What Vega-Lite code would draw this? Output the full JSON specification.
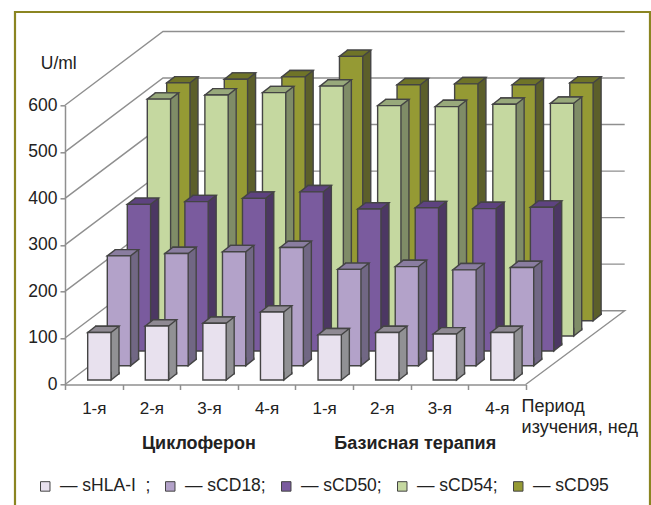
{"$schema":"https://vega.github.io/schema/vega-lite/v6.json","width":460.7,"height":279.2,"autosize":"none","padding":{"left":65,"top":105.3,"right":125.3,"bottom":120.5},"background":"white","config":{"view":{"stroke":null},"font":"Liberation Sans"},
"datasets":{"bars":[
{"period":"Ц|1-я","series":"sHLA-I","value":102},{"period":"Ц|2-я","series":"sHLA-I","value":116},{"period":"Ц|3-я","series":"sHLA-I","value":122},{"period":"Ц|4-я","series":"sHLA-I","value":146},{"period":"Б|1-я","series":"sHLA-I","value":97},{"period":"Б|2-я","series":"sHLA-I","value":102},{"period":"Б|3-я","series":"sHLA-I","value":99},{"period":"Б|4-я","series":"sHLA-I","value":102},
{"period":"Ц|1-я","series":"sCD18","value":236},{"period":"Ц|2-я","series":"sCD18","value":241},{"period":"Ц|3-я","series":"sCD18","value":245},{"period":"Ц|4-я","series":"sCD18","value":254},{"period":"Б|1-я","series":"sCD18","value":207},{"period":"Б|2-я","series":"sCD18","value":213},{"period":"Б|3-я","series":"sCD18","value":206},{"period":"Б|4-я","series":"sCD18","value":211},
{"period":"Ц|1-я","series":"sCD50","value":315},{"period":"Ц|2-я","series":"sCD50","value":321},{"period":"Ц|3-я","series":"sCD50","value":328},{"period":"Ц|4-я","series":"sCD50","value":342},{"period":"Б|1-я","series":"sCD50","value":305},{"period":"Б|2-я","series":"sCD50","value":308},{"period":"Б|3-я","series":"sCD50","value":306},{"period":"Б|4-я","series":"sCD50","value":309},
{"period":"Ц|1-я","series":"sCD54","value":509},{"period":"Ц|2-я","series":"sCD54","value":518},{"period":"Ц|3-я","series":"sCD54","value":523},{"period":"Ц|4-я","series":"sCD54","value":537},{"period":"Б|1-я","series":"sCD54","value":495},{"period":"Б|2-я","series":"sCD54","value":493},{"period":"Б|3-я","series":"sCD54","value":498},{"period":"Б|4-я","series":"sCD54","value":500},
{"period":"Ц|1-я","series":"sCD95","value":511},{"period":"Ц|2-я","series":"sCD95","value":519},{"period":"Ц|3-я","series":"sCD95","value":524},{"period":"Ц|4-я","series":"sCD95","value":568},{"period":"Б|1-я","series":"sCD95","value":507},{"period":"Б|2-я","series":"sCD95","value":509},{"period":"Б|3-я","series":"sCD95","value":507},{"period":"Б|4-я","series":"sCD95","value":511}],
"ticks":[{"tick":100},{"tick":200},{"tick":300},{"tick":400},{"tick":500},{"tick":600}]},
"data":{"name":"bars"},
"encoding":{
"x":{"field":"period","type":"nominal","sort":null,"title":null,"scale":{"type":"band","domain":["Ц|1-я","Ц|2-я","Ц|3-я","Ц|4-я","Б|1-я","Б|2-я","Б|3-я","Б|4-я"],"paddingInner":0,"paddingOuter":0},"axis":{"labelExpr":"split(datum.label,'|')[1]","labelAngle":0,"labelFontSize":17,"labelColor":"#222","labelPadding":19,"domainColor":"#8f8f8f","domainWidth":1.5,"tickColor":"#8f8f8f","tickWidth":1.5,"tickSize":5,"tickBand":"extent","grid":false,"labelBaseline":"middle","labelFont":"Liberation Sans"}},
"y":{"field":"value","type":"quantitative","stack":null,"title":null,"scale":{"domain":[0,600],"nice":false},"axis":{"values":[0,100,200,300,400,500,600],"labelFontSize":17.5,"labelColor":"#222","labelPadding":3,"domainColor":"#8f8f8f","domainWidth":1.5,"tickColor":"#8f8f8f","tickWidth":1.5,"tickSize":5,"grid":false,"labelFont":"Liberation Sans"}}},
"layer":[
{"data":{"values":[{"tick":0}]},"mark":{"type":"point","size":4,"filled":false,"opacity":1,"stroke":"#8B8521","strokeWidth":2.2,"xOffset":-28.8,"shape":"M-50,130L-50,-372.5L585,-372.5L585,130"},"encoding":{"x":{"datum":"Ц|1-я"},"y":{"field":"tick","type":"quantitative"}}},
{"data":{"name":"ticks"},"mark":{"type":"point","size":4,"filled":false,"opacity":1,"stroke":"#8f8f8f","strokeWidth":1.4,"xOffset":-28.8,"shape":"M0,0L98,-73.8L559.7,-73.8"},"encoding":{"x":{"datum":"Ц|1-я"},"y":{"field":"tick","type":"quantitative"}}},
{"data":{"values":[{"tick":0}]},"mark":{"type":"point","size":4,"filled":false,"opacity":1,"stroke":"#8f8f8f","strokeWidth":1.4,"xOffset":-28.8,"shape":"M0,0L98,-73.8L559.7,-73.8L460.7,0"},"encoding":{"x":{"datum":"Ц|1-я"},"y":{"field":"tick","type":"quantitative"}}},

{"transform":[{"filter":"datum.series=='sCD95'"}],"mark":{"type":"bar","width":23.3,"xOffset":92.55,"yOffset":-70.1,"y2Offset":-70.1,"fill":"#5C5F2A","stroke":"#444444","strokeWidth":1.4},"encoding":{"y2":{"datum":0}}},
{"transform":[{"filter":"datum.series=='sCD95'"}],"mark":{"type":"point","size":4,"filled":true,"opacity":1,"fill":"#5C5F2A","stroke":"#444444","strokeWidth":1.4,"xOffset":84.55,"yOffset":-63.8,"shape":"M11.65,-8.3L11.65,0L19.65,-6.3L19.65,-8.3"},"encoding":{"y":{"datum":0}}},
{"transform":[{"filter":"datum.series=='sCD95'"}],"mark":{"type":"point","size":4,"filled":true,"opacity":1,"fill":"#6F7428","stroke":"#444444","strokeWidth":1.4,"xOffset":84.55,"yOffset":-63.8,"shape":"M-11.65,0L-3.65,-6.3L19.65,-6.3L11.65,0Z"}},
{"transform":[{"filter":"datum.series=='sCD95'"}],"mark":{"type":"bar","width":23.3,"xOffset":84.55,"yOffset":-63.8,"y2Offset":-63.8,"stroke":"#444444","strokeWidth":1.4},"encoding":{"y2":{"datum":0},"color":{"field":"series","type":"nominal"}}},

{"transform":[{"filter":"datum.series=='sCD54'"}],"mark":{"type":"bar","width":23.3,"xOffset":73.15,"yOffset":-54.8,"y2Offset":-54.8,"fill":"#7F8C67","stroke":"#444444","strokeWidth":1.4},"encoding":{"y2":{"datum":0}}},
{"transform":[{"filter":"datum.series=='sCD54'"}],"mark":{"type":"point","size":4,"filled":true,"opacity":1,"fill":"#7F8C67","stroke":"#444444","strokeWidth":1.4,"xOffset":65.15,"yOffset":-48.5,"shape":"M11.65,-8.3L11.65,0L19.65,-6.3L19.65,-8.3"},"encoding":{"y":{"datum":0}}},
{"transform":[{"filter":"datum.series=='sCD54'"}],"mark":{"type":"point","size":4,"filled":true,"opacity":1,"fill":"#98A97B","stroke":"#444444","strokeWidth":1.4,"xOffset":65.15,"yOffset":-48.5,"shape":"M-11.65,0L-3.65,-6.3L19.65,-6.3L11.65,0Z"}},
{"transform":[{"filter":"datum.series=='sCD54'"}],"mark":{"type":"bar","width":23.3,"xOffset":65.15,"yOffset":-48.5,"y2Offset":-48.5,"stroke":"#444444","strokeWidth":1.4},"encoding":{"y2":{"datum":0},"color":{"field":"series","type":"nominal"}}},

{"transform":[{"filter":"datum.series=='sCD50'"}],"mark":{"type":"bar","width":23.3,"xOffset":53.15,"yOffset":-39.8,"y2Offset":-39.8,"fill":"#4C3763","stroke":"#444444","strokeWidth":1.4},"encoding":{"y2":{"datum":0}}},
{"transform":[{"filter":"datum.series=='sCD50'"}],"mark":{"type":"point","size":4,"filled":true,"opacity":1,"fill":"#4C3763","stroke":"#444444","strokeWidth":1.4,"xOffset":45.15,"yOffset":-33.5,"shape":"M11.65,-8.3L11.65,0L19.65,-6.3L19.65,-8.3"},"encoding":{"y":{"datum":0}}},
{"transform":[{"filter":"datum.series=='sCD50'"}],"mark":{"type":"point","size":4,"filled":true,"opacity":1,"fill":"#5E4380","stroke":"#444444","strokeWidth":1.4,"xOffset":45.15,"yOffset":-33.5,"shape":"M-11.65,0L-3.65,-6.3L19.65,-6.3L11.65,0Z"}},
{"transform":[{"filter":"datum.series=='sCD50'"}],"mark":{"type":"bar","width":23.3,"xOffset":45.15,"yOffset":-33.5,"y2Offset":-33.5,"stroke":"#444444","strokeWidth":1.4},"encoding":{"y2":{"datum":0},"color":{"field":"series","type":"nominal"}}},

{"transform":[{"filter":"datum.series=='sCD18'"}],"mark":{"type":"bar","width":23.3,"xOffset":33.15,"yOffset":-25.1,"y2Offset":-25.1,"fill":"#716784","stroke":"#444444","strokeWidth":1.4},"encoding":{"y2":{"datum":0}}},
{"transform":[{"filter":"datum.series=='sCD18'"}],"mark":{"type":"point","size":4,"filled":true,"opacity":1,"fill":"#716784","stroke":"#444444","strokeWidth":1.4,"xOffset":25.15,"yOffset":-18.8,"shape":"M11.65,-8.3L11.65,0L19.65,-6.3L19.65,-8.3"},"encoding":{"y":{"datum":0}}},
{"transform":[{"filter":"datum.series=='sCD18'"}],"mark":{"type":"point","size":4,"filled":true,"opacity":1,"fill":"#8A7DA0","stroke":"#444444","strokeWidth":1.4,"xOffset":25.15,"yOffset":-18.8,"shape":"M-11.65,0L-3.65,-6.3L19.65,-6.3L11.65,0Z"}},
{"transform":[{"filter":"datum.series=='sCD18'"}],"mark":{"type":"bar","width":23.3,"xOffset":25.15,"yOffset":-18.8,"y2Offset":-18.8,"stroke":"#444444","strokeWidth":1.4},"encoding":{"y2":{"datum":0},"color":{"field":"series","type":"nominal"}}},

{"transform":[{"filter":"datum.series=='sHLA-I'"}],"mark":{"type":"bar","width":23.3,"xOffset":13.55,"yOffset":-10.8,"y2Offset":-10.8,"fill":"#919194","stroke":"#444444","strokeWidth":1.4},"encoding":{"y2":{"datum":0}}},
{"transform":[{"filter":"datum.series=='sHLA-I'"}],"mark":{"type":"point","size":4,"filled":true,"opacity":1,"fill":"#919194","stroke":"#444444","strokeWidth":1.4,"xOffset":5.55,"yOffset":-4.5,"shape":"M11.65,-8.3L11.65,0L19.65,-6.3L19.65,-8.3"},"encoding":{"y":{"datum":0}}},
{"transform":[{"filter":"datum.series=='sHLA-I'"}],"mark":{"type":"point","size":4,"filled":true,"opacity":1,"fill":"#8F8A93","stroke":"#444444","strokeWidth":1.4,"xOffset":5.55,"yOffset":-4.5,"shape":"M-11.65,0L-3.65,-6.3L19.65,-6.3L11.65,0Z"}},
{"transform":[{"filter":"datum.series=='sHLA-I'"}],"mark":{"type":"bar","width":23.3,"xOffset":5.55,"yOffset":-4.5,"y2Offset":-4.5,"stroke":"#444444","strokeWidth":1.4},"encoding":{"y2":{"datum":0},"color":{"field":"series","type":"nominal","scale":{"domain":["sHLA-I","sCD18","sCD50","sCD54","sCD95"],"range":["#E8E1EE","#B3A2C9","#7A5B9E","#C5D8A0","#959A34"]},"legend":{"orient":"none","legendX":-28.5,"legendY":372,"direction":"horizontal","columns":5,"title":null,"symbolType":"square","symbolSize":90,"symbolStrokeColor":"#777","symbolStrokeWidth":1,"symbolOpacity":1,"labelFontSize":17.5,"labelColor":"#222","labelOffset":6,"columnPadding":11,"labelLimit":200,"labelFont":"Liberation Sans","labelExpr":"datum.label=='sCD95' ? '— sCD95' : datum.label=='sHLA-I' ? '— sHLA-I\u00a0 ;' : '— '+datum.label+';'"}}}},

{"data":{"values":[{"period":"Ц|1-я","at":600,"note":"U/ml"}]},"mark":{"type":"text","align":"left","baseline":"middle","dx":-53,"dy":-41,"fontSize":17.5,"fill":"#222222"},"encoding":{"y":{"field":"at","type":"quantitative"},"text":{"field":"note","type":"nominal"}}},
{"data":{"values":[{"period":"Б|4-я","at":0,"note":"Период"}]},"mark":{"type":"text","align":"left","baseline":"middle","dx":24.7,"dy":22.5,"fontSize":18,"fill":"#222222"},"encoding":{"y":{"field":"at","type":"quantitative"},"text":{"field":"note","type":"nominal"}}},
{"data":{"values":[{"period":"Б|4-я","at":0,"note":"изучения, нед"}]},"mark":{"type":"text","align":"left","baseline":"middle","dx":24.7,"dy":43.5,"fontSize":18,"fill":"#222222"},"encoding":{"y":{"field":"at","type":"quantitative"},"text":{"field":"note","type":"nominal"}}},
{"data":{"values":[{"period":"Ц|2-я","at":0,"note":"Циклоферон"}]},"mark":{"type":"text","align":"center","baseline":"middle","dx":47.6,"dy":59.5,"fontSize":18,"fontWeight":"bold","fill":"#222222"},"encoding":{"y":{"field":"at","type":"quantitative"},"text":{"field":"note","type":"nominal"}}},
{"data":{"values":[{"period":"Б|2-я","at":0,"note":"Базисная терапия"}]},"mark":{"type":"text","align":"center","baseline":"middle","dx":33.5,"dy":59.5,"fontSize":18,"fontWeight":"bold","fill":"#222222"},"encoding":{"y":{"field":"at","type":"quantitative"},"text":{"field":"note","type":"nominal"}}}
]}
